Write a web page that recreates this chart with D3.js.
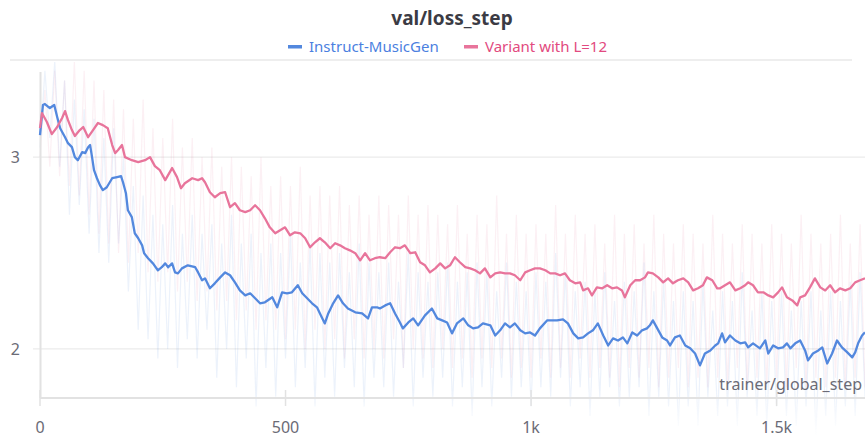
<!DOCTYPE html>
<html>
<head>
<meta charset="utf-8">
<script src="https://cdn.jsdelivr.net/npm/d3@7"></script>
<style>
  body { margin: 0; background: #fff; }
  svg { display: block; font-family: "Noto Sans", Lato, sans-serif; }
</style>
</head>
<body>
<svg width="865" height="437"></svg>
<script>
// smoothed curves
var blueSteps = [0,6,10,20,29,35,41,51,57,65,71,77,86,92,98,102,106,110,116,122,128,136,147,157,165,169,175,179,187,193,200,208,212,220,230,240,248,255,261,269,275,281,289,301,316,322,330,336,346,356,367,377,387,397,407,418,428,438,448,458,473,483,493,503,513,525,534,544,554,564,574,580,587,597,607,617,627,642,656,668,676,686,692,703,713,723,733,739,750,760,770,784,798,809,819,829,839,849,862,872,882,892,902,917,927,937,947,957,967,978,988,998,1008,1018,1033,1039,1053,1065,1075,1086,1096,1106,1116,1126,1136,1147,1157,1167,1177,1187,1196,1206,1216,1226,1236,1242,1248,1257,1267,1277,1283,1293,1303,1314,1324,1334,1344,1354,1365,1375,1381,1389,1395,1405,1416,1426,1436,1442,1452,1466,1477,1483,1493,1503,1513,1521,1528,1538,1548,1558,1564,1574,1585,1593,1603,1613,1623,1633,1644,1654,1660,1666,1674,1680];
var blueLoss = [3.115,3.272,3.277,3.256,3.272,3.209,3.151,3.104,3.073,3.052,3.0,2.984,3.026,3.021,3.052,3.063,3.0,2.932,2.890,2.854,2.828,2.843,2.890,2.896,2.901,2.869,2.812,2.723,2.687,2.603,2.577,2.540,2.499,2.473,2.446,2.410,2.426,2.446,2.426,2.446,2.399,2.394,2.420,2.436,2.426,2.399,2.358,2.368,2.316,2.342,2.373,2.399,2.384,2.347,2.305,2.279,2.290,2.264,2.238,2.243,2.269,2.217,2.295,2.290,2.295,2.332,2.290,2.264,2.238,2.217,2.164,2.133,2.185,2.238,2.279,2.238,2.211,2.191,2.185,2.159,2.217,2.217,2.211,2.227,2.238,2.185,2.138,2.107,2.138,2.159,2.123,2.175,2.211,2.159,2.149,2.138,2.081,2.133,2.159,2.123,2.107,2.112,2.133,2.123,2.070,2.097,2.133,2.112,2.133,2.097,2.081,2.086,2.070,2.107,2.149,2.149,2.149,2.154,2.133,2.081,2.055,2.060,2.081,2.097,2.133,2.070,2.018,2.055,2.044,2.060,2.029,2.086,2.070,2.097,2.107,2.123,2.149,2.107,2.060,2.044,2.018,2.060,2.070,2.018,2.003,1.976,1.914,1.976,1.992,2.018,2.029,2.081,2.034,2.070,2.044,2.029,2.034,2.008,2.029,2.003,2.044,1.976,2.018,2.003,2.008,2.029,2.003,2.029,2.044,1.992,1.940,1.976,1.992,2.008,1.924,1.976,2.044,2.008,1.982,1.956,1.982,2.029,2.070,2.086];

var pinkSteps = [0,4,14,24,35,45,51,57,65,71,81,88,98,108,118,128,138,147,153,159,167,173,187,200,214,224,234,244,255,269,279,287,295,310,322,330,336,346,356,367,377,387,397,407,418,428,438,448,458,468,479,489,499,509,519,530,540,550,560,570,580,591,601,611,621,631,642,652,662,672,682,692,703,713,723,733,743,754,764,774,784,794,805,815,825,835,845,855,866,876,886,896,906,917,927,937,947,957,967,978,988,998,1008,1018,1029,1039,1049,1059,1069,1079,1090,1100,1106,1116,1124,1134,1145,1155,1165,1175,1185,1191,1202,1212,1222,1232,1238,1248,1259,1269,1279,1289,1299,1310,1320,1330,1340,1350,1358,1369,1379,1385,1395,1405,1416,1426,1436,1442,1452,1462,1473,1483,1493,1503,1511,1521,1532,1542,1548,1558,1568,1578,1589,1599,1609,1619,1629,1640,1650,1660,1670,1680];
var pinkLoss = [3.151,3.230,3.183,3.120,3.157,3.204,3.240,3.193,3.141,3.110,3.141,3.157,3.104,3.141,3.178,3.167,3.151,3.063,3.021,3.037,3.063,3.0,2.984,2.974,2.984,3.0,2.953,2.932,2.880,2.943,2.896,2.838,2.864,2.890,2.880,2.890,2.869,2.817,2.791,2.812,2.817,2.739,2.760,2.723,2.713,2.723,2.749,2.723,2.681,2.634,2.603,2.619,2.634,2.593,2.608,2.603,2.577,2.530,2.556,2.577,2.556,2.525,2.551,2.540,2.525,2.514,2.499,2.462,2.499,2.462,2.473,2.478,2.473,2.504,2.530,2.525,2.540,2.499,2.504,2.452,2.436,2.399,2.420,2.446,2.420,2.436,2.478,2.452,2.426,2.420,2.410,2.394,2.420,2.373,2.394,2.399,2.394,2.394,2.384,2.358,2.399,2.410,2.420,2.420,2.410,2.394,2.394,2.384,2.394,2.358,2.342,2.347,2.305,2.316,2.279,2.321,2.316,2.332,2.316,2.321,2.305,2.269,2.332,2.358,2.358,2.373,2.399,2.394,2.373,2.347,2.368,2.342,2.358,2.368,2.347,2.305,2.316,2.332,2.373,2.358,2.316,2.316,2.332,2.347,2.305,2.316,2.332,2.347,2.332,2.295,2.295,2.279,2.269,2.295,2.321,2.269,2.253,2.227,2.269,2.279,2.321,2.368,2.321,2.305,2.332,2.295,2.316,2.305,2.316,2.347,2.358,2.368];

// raw (unsmoothed) values, one every 10 steps, rough estimates of the faint spikes
var rawStep = 10;
var blueRaw = [3.05,3.45,3.1,3.5,2.95,3.4,2.7,3.3,2.75,3.25,2.6,
  3.2,2.5,3.1,2.45,3.15,2.55,3.0,2.3,2.85,2.1,2.8,2.05,
  2.7,1.95,2.65,2.0,2.75,1.9,2.6,
  2.05,2.7,1.95,2.6,2.1,2.65,1.85,2.55,2.0,2.7,
  1.8,2.55,1.95,2.6,1.7,2.5,1.9,2.55,1.75,2.5,
  1.95,2.6,1.8,2.45,1.9,2.55,1.7,2.5,1.85,2.45,
  1.75,2.5,1.9,2.4,1.8,2.55,1.7,2.45,1.85,2.4,
  1.8,2.45,1.75,2.35,1.9,2.5,1.7,2.4,1.85,2.35,
  1.75,2.4,1.85,2.45,1.7,2.35,1.8,2.4,1.65,2.45,
  1.8,2.4,1.7,2.3,1.85,2.45,1.75,2.35,1.8,2.3,
  1.7,2.4,1.8,2.35,1.75,2.5,1.85,2.4,1.7,2.3,
  1.8,2.35,1.65,2.3,1.75,2.4,1.8,2.25,1.7,2.35,
  1.75,2.3,1.8,2.45,1.65,2.3,1.75,2.35,1.7,2.25,
  1.6,2.3,1.7,2.25,1.6,2.35,1.75,2.2,1.65,2.3,
  1.7,2.25,1.6,2.4,1.75,2.2,1.65,2.3,1.6,2.25,
  1.7,2.3,1.65,2.2,1.6,2.25,1.7,2.3,1.55,2.2,
  1.65,2.3,1.6,2.25,1.7,2.35,1.65,2.4,1.75];
var pinkRaw = [3.0,3.35,2.95,3.45,2.9,3.4,2.85,3.5,2.8,3.45,2.7,
  3.4,2.6,3.35,2.55,3.3,2.5,3.25,2.45,3.2,2.5,3.3,2.4,
  3.15,2.35,3.1,2.4,3.2,2.3,3.05,
  2.35,3.1,2.25,3.0,2.3,3.05,2.2,2.95,2.25,3.0,
  2.15,2.95,2.2,2.9,2.1,3.0,2.15,2.85,2.1,2.9,
  2.05,2.85,2.1,2.95,2.0,2.8,2.1,2.85,2.0,2.8,
  2.05,2.85,1.95,2.75,2.05,2.8,1.95,2.7,2.0,2.8,
  1.95,2.75,2.05,2.7,1.9,2.8,2.0,2.7,1.95,2.75,
  1.9,2.7,2.0,2.65,1.9,2.75,1.95,2.6,1.85,2.7,
  1.95,2.65,1.9,2.8,1.95,2.6,1.85,2.7,1.9,2.6,
  1.85,2.65,1.95,2.6,1.85,2.75,1.9,2.6,1.85,2.7,
  1.95,2.6,1.85,2.65,1.9,2.55,1.85,2.7,1.8,2.6,
  1.9,2.65,1.85,2.55,1.9,2.7,1.8,2.6,1.85,2.55,
  1.9,2.65,1.8,2.6,1.85,2.55,1.8,2.7,1.85,2.6,
  1.8,2.55,1.9,2.65,1.8,2.6,1.85,2.55,1.8,2.65,
  1.85,2.6,1.8,2.55,1.9,2.7,1.8,2.6,1.85,2.55,
  1.8,2.6,1.85,2.7,1.8,2.55,1.85,2.65,1.8];

var seriesNames = ["Instruct-MusicGen", "Variant with L=12"];
var xTicks = [0, 500, 1000, 1500];
var xTickLabels = ["0", "500", "1k", "1.5k"];
var yTicks = [2, 3];

var blueCol = "#5388de", pinkCol = "#e8749b";

var svg = d3.select("svg");
var width = +svg.attr("width");
var height = +svg.attr("height");

var x = d3.scaleLinear().domain([0, 1680]).range([40, 865]);
var y = d3.scaleLinear().domain([1.744, 3.444]).range([398, 72]);

// title + legend
svg.append("text")
    .attr("x", 452).attr("y", 25)
    .attr("text-anchor", "middle")
    .attr("font-size", 19).attr("font-weight", "bold")
    .attr("fill", "#3b3b44")
    .text("val/loss_step");

var legend = svg.append("g").attr("transform", "translate(0,47)");
var legItems = [
  {name: seriesNames[0], line: blueCol, text: "#4b7fdf", x: 288},
  {name: seriesNames[1], line: pinkCol, text: "#e24a80", x: 464}
];
legItems.forEach(function(d) {
  legend.append("rect").attr("x", d.x).attr("y", -2).attr("width", 14).attr("height", 3.5).attr("fill", d.line);
  legend.append("text").attr("x", d.x + 21).attr("y", 5)
      .attr("font-size", 15).attr("fill", d.text).text(d.name);
});

svg.append("line")
    .attr("x1", 10).attr("x2", 852).attr("y1", 60).attr("y2", 60)
    .attr("stroke", "#e8e8e8").attr("stroke-width", 1.5);

// grid + axes
svg.append("g").selectAll("line").data(yTicks).enter().append("line")
    .attr("x1", 33).attr("x2", 865)
    .attr("y1", function(d) { return y(d); }).attr("y2", function(d) { return y(d); })
    .attr("stroke", "#ebebeb").attr("stroke-width", 1.2);

svg.append("g").selectAll("text").data(yTicks).enter().append("text")
    .attr("x", 20).attr("y", function(d) { return y(d) + 6; })
    .attr("text-anchor", "end").attr("font-size", 16).attr("fill", "#6b6b76")
    .text(function(d) { return d; });

// raw lines, faded out below the axis
var defs = svg.append("defs");
var grad = defs.append("linearGradient").attr("id", "fade")
    .attr("gradientUnits", "userSpaceOnUse").attr("x1", 0).attr("x2", 0).attr("y1", 390).attr("y2", 437);
grad.append("stop").attr("offset", 0).attr("stop-color", "#fff");
grad.append("stop").attr("offset", 1).attr("stop-color", "#000");
defs.append("mask").attr("id", "rawmask").append("rect")
    .attr("x", 0).attr("y", 62).attr("width", width).attr("height", height - 62).attr("fill", "url(#fade)");

var rawLine = d3.line()
    .x(function(d, i) { return x(i * rawStep); })
    .y(function(d) { return y(d); });

var raw = svg.append("g").attr("mask", "url(#rawmask)");
raw.append("path").attr("d", rawLine(pinkRaw))
    .attr("fill", "none").attr("stroke", pinkCol).attr("stroke-opacity", 0.11).attr("stroke-width", 1.2);
raw.append("path").attr("d", rawLine(blueRaw))
    .attr("fill", "none").attr("stroke", blueCol).attr("stroke-opacity", 0.11).attr("stroke-width", 1.2);

// axis lines
svg.append("line").attr("x1", 40.5).attr("x2", 40.5).attr("y1", 72).attr("y2", 398)
    .attr("stroke", "#e2e2e2").attr("stroke-width", 2);
svg.append("line").attr("x1", 40).attr("x2", 865).attr("y1", 398).attr("y2", 398)
    .attr("stroke", "#e2e2e2").attr("stroke-width", 2);

var xa = svg.append("g");
xa.selectAll("line").data(xTicks).enter().append("line")
    .attr("x1", function(d) { return x(d); }).attr("x2", function(d) { return x(d); })
    .attr("y1", 390).attr("y2", 406)
    .attr("stroke", "#e2e2e2").attr("stroke-width", 1.5);
xa.selectAll("text").data(xTicks).enter().append("text")
    .attr("x", function(d) { return x(d); }).attr("y", 433)
    .attr("text-anchor", "middle").attr("font-size", 16).attr("fill", "#6b6b76")
    .text(function(d, i) { return xTickLabels[i]; });

svg.append("text")
    .attr("x", 862).attr("y", 390)
    .attr("text-anchor", "end").attr("font-size", 16).attr("fill", "#6b6b76")
    .text("trainer/global_step");

// smoothed lines
var line = d3.line()
    .x(function(d) { return x(d[0]); })
    .y(function(d) { return y(d[1]); });

svg.append("path").attr("d", line(d3.zip(blueSteps, blueLoss)))
    .attr("fill", "none").attr("stroke", blueCol).attr("stroke-width", 2.3).attr("stroke-linejoin", "round");
svg.append("path").attr("d", line(d3.zip(pinkSteps, pinkLoss)))
    .attr("fill", "none").attr("stroke", pinkCol).attr("stroke-width", 2.3).attr("stroke-linejoin", "round");
</script>
</body>
</html>
